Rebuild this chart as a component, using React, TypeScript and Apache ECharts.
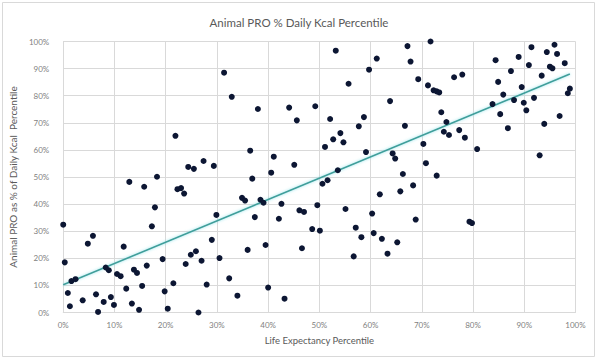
import React, { useEffect, useRef } from "react";
import * as echarts from "echarts";

const chartTitle = "Animal PRO % Daily Kcal Percentile";
const xAxisName = "Life Expectancy Percentile";
const yAxisName = "Animal PRO as % of Daily Kcal  Percentile";

// [life expectancy percentile %, animal PRO % daily kcal percentile %]
const points: [number, number][] = [
  [0, 32.4], [0.3, 18.5], [1.6, 11.6], [2.4, 12.3], [0.9, 7.2], [1.3, 2.3], [3.8, 4.5],
  [4.8, 25.4], [5.8, 28.3], [6.4, 6.7], [6.8, 0.2], [7.9, 3.9], [8.3, 16.6], [8.9, 15.6],
  [9.3, 5.7], [9.9, 2.8], [10.5, 14.2], [11.2, 13.4], [12.3, 8.8], [11.8, 24.3], [12.9, 48.2],
  [13.4, 3.3], [13.8, 15.8], [14.4, 14.6], [14.8, 1.0], [15.4, 9.8], [15.8, 46.4], [16.3, 17.3],
  [17.3, 31.8], [17.9, 38.8], [18.3, 50.1], [19.4, 19.7], [19.8, 7.8], [20.4, 1.4],
  [21.5, 10.8], [21.9, 65.2], [22.3, 45.5], [23.0, 45.9], [23.6, 43.9], [23.9, 17.9],
  [24.9, 21.3], [25.9, 22.6], [27.0, 19.1], [26.4, 0], [24.4, 53.7], [25.5, 53.0],
  [27.4, 55.9], [29.4, 54.1], [28.0, 10.3], [29.0, 26.8], [29.9, 36.0], [30.5, 20.1],
  [31.4, 88.5], [32.9, 79.6], [32.4, 12.6], [34.0, 6.2], [34.9, 42.3], [35.5, 41.3],
  [36.0, 23.1], [36.5, 59.7], [36.9, 49.4], [38.0, 75.1], [37.4, 35.2], [38.5, 41.6],
  [39.1, 40.5], [39.5, 24.9], [40.0, 9.2],
  [41.1, 57.5], [40.6, 51.6], [42.6, 40.1], [42.1, 34.6], [43.2, 5.1], [44.1, 75.6],
  [45.6, 70.9], [45.1, 54.5], [46.1, 37.7], [47.0, 37.1], [46.6, 23.7], [48.6, 30.8],
  [50.1, 30.2], [49.2, 76.1], [49.6, 39.6], [50.6, 47.5], [51.6, 48.8], [51.1, 61.1],
  [52.1, 71.4], [52.7, 63.9], [53.2, 96.6], [53.6, 52.5], [54.1, 66.2], [54.7, 62.8],
  [55.1, 38.2], [55.7, 84.4], [56.7, 20.7], [57.1, 31.3], [58.2, 27.8], [57.7, 68.7],
  [58.7, 72.1], [59.1, 59.2], [59.7, 89.6], [60.3, 36.5], [60.6, 29.3], [61.2, 93.7],
  [61.8, 43.6], [62.2, 27.2], [63.3, 21.7], [63.8, 78.0], [65.2, 25.9], [65.8, 44.7],
  [66.3, 51.1], [66.7, 68.9], [67.2, 98.3], [67.8, 92.6], [68.3, 46.9], [68.8, 34.3],
  [69.3, 86.1], [64.3, 58.7], [64.8, 56.8], [70.3, 62.2], [70.8, 55.1], [71.2, 83.8],
  [71.7, 100], [72.3, 82.0], [72.9, 81.6], [73.4, 81.2], [72.9, 50.5], [73.8, 73.9],
  [74.8, 70.3], [74.3, 66.7], [75.3, 65.5], [76.3, 86.8], [77.9, 87.8], [77.3, 67.3],
  [78.4, 64.5], [79.3, 33.5], [79.8, 33.0], [80.8, 60.3],
  [84.4, 93.1], [84.9, 85.1], [83.8, 76.9], [85.9, 80.4], [85.3, 73.2], [86.8, 68.0],
  [87.4, 89.1], [88.0, 78.4], [88.9, 94.3], [89.5, 83.2], [89.9, 77.4], [90.4, 74.6],
  [90.9, 91.3], [91.4, 97.9], [91.9, 79.2], [93.0, 58.0], [93.4, 87.4], [93.9, 69.6],
  [94.4, 96.1], [95.0, 90.7], [95.5, 90.1], [95.9, 98.8], [96.4, 95.4], [96.9, 72.5],
  [97.9, 92.0], [98.5, 80.9], [98.9, 82.6],
];

// linear trendline endpoints
const trendLine: [number, number][] = [
  [0, 10.2],
  [98.9, 88.0],
];

const axisTicks = [0, 10, 20, 30, 40, 50, 60, 70, 80, 90, 100];

export default function App() {
  const ref = useRef<HTMLDivElement>(null);

  useEffect(() => {
    if (!ref.current) return;
    const chart = echarts.init(ref.current, undefined, { renderer: "svg" });
    const font = "Lato, 'Open Sans', sans-serif";
    const grey = "#7f7f7f";
    chart.setOption({
      animation: false,
      backgroundColor: "#ffffff",
      title: {
        text: chartTitle,
        left: "center",
        top: 11,
        textStyle: { fontFamily: font, fontSize: 11.5, fontWeight: "normal", color: "#595959" },
      },
      graphic: [
        {
          type: "rect",
          shape: { x: 2.5, y: 2.5, width: 592, height: 354 },
          style: { fill: "none", stroke: "#d9d9d9", lineWidth: 1 },
          silent: true,
        },
      ],
      grid: { left: 60.5, right: 22.5, top: 41.5, bottom: 48.5 },
      xAxis: {
        type: "value",
        min: axisTicks[0],
        max: axisTicks[axisTicks.length - 1],
        interval: 10,
        name: xAxisName,
        nameLocation: "middle",
        nameGap: 23,
        nameTextStyle: { fontFamily: font, fontSize: 9.5, color: "#595959" },
        axisLine: { show: true, lineStyle: { color: "#d9d9d9" } },
        axisTick: { show: false },
        splitLine: { show: true, lineStyle: { color: "#d9d9d9", width: 1 } },
        axisLabel: {
          formatter: (v: number) => `${v}%`,
          fontFamily: font,
          fontSize: 8,
          color: grey,
          margin: 8,
        },
      },
      yAxis: {
        type: "value",
        min: axisTicks[0],
        max: axisTicks[axisTicks.length - 1],
        interval: 10,
        name: yAxisName,
        nameLocation: "middle",
        nameGap: 25,
        nameTextStyle: { fontFamily: font, fontSize: 10, color: "#595959" },
        axisLine: { show: true, lineStyle: { color: "#d9d9d9" } },
        axisTick: { show: false },
        splitLine: { show: true, lineStyle: { color: "#d9d9d9", width: 1 } },
        axisLabel: {
          formatter: (v: number) => `${v}%`,
          fontFamily: font,
          fontSize: 8,
          color: grey,
          margin: 14,
        },
      },
      series: [
        {
          type: "line",
          data: trendLine,
          showSymbol: false,
          symbol: "none",
          lineStyle: {
            color: "#3f9e9a",
            width: 1.6,
            shadowColor: "rgba(120,220,230,0.8)",
            shadowBlur: 3,
          },
          z: 3,
          silent: true,
        },
        {
          type: "scatter",
          data: points,
          symbol: "circle",
          symbolSize: 6,
          itemStyle: { color: "#0c1633", opacity: 1 },
          z: 4,
        },
      ],
    });
    return () => chart.dispose();
  }, []);

  return (
    <div
      ref={ref}
      style={{ position: "fixed", left: 0, top: 0, width: 598, height: 361 }}
    />
  );
}
